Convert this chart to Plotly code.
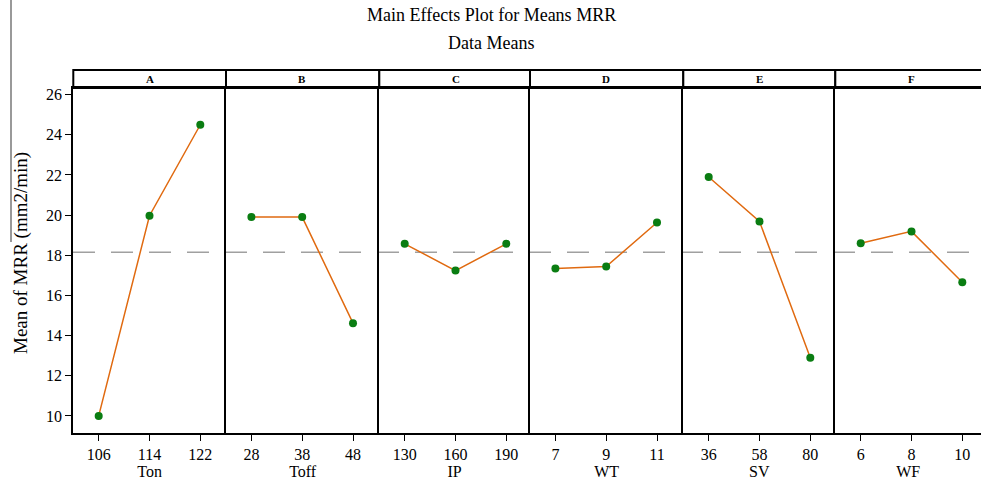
import plotly.graph_objects as go

# ---- data ----
factors = ["A", "B", "C", "D", "E", "F"]
factor_names = ["Ton", "Toff", "IP", "WT", "SV", "WF"]
levels = [
    ["106", "114", "122"],
    ["28", "38", "48"],
    ["130", "160", "190"],
    ["7", "9", "11"],
    ["36", "58", "80"],
    ["6", "8", "10"],
]
means_A = [10.0, 19.97, 24.5]
means_B = [19.9, 19.9, 14.62]
means_C = [18.57, 17.24, 18.57]
means_D = [17.34, 17.44, 19.63]
means_E = [21.9, 19.68, 12.9]
means_F = [18.6, 19.19, 16.66]
grand_mean = 18.15
y_ticks = [10, 12, 14, 16, 18, 20, 22, 24, 26]

series = [means_A, means_B, means_C, means_D, means_E, means_F]

W, H = 981, 485
L, T, B = 73, 88, 52
PW = W - L
PH = H - T - B
# panel boundaries in pixels
bounds = [73.3, 226.0, 379.3, 530.0, 683.3, 835.3, 981.0]
step = 50.8

SERIF = "Liberation Serif, Times New Roman, serif"

fig = go.Figure()
layout = dict(
    width=W, height=H,
    margin=dict(l=L, r=0, t=T, b=B),
    plot_bgcolor="white", paper_bgcolor="white",
    showlegend=False,
    font=dict(family=SERIF, color="black", size=15),
)

shapes = []
annotations = []
for i in range(6):
    xa = "xaxis" if i == 0 else f"xaxis{i+1}"
    ya = "yaxis" if i == 0 else f"yaxis{i+1}"
    xr = "x" if i == 0 else f"x{i+1}"
    yr = "y" if i == 0 else f"y{i+1}"
    d0 = (bounds[i] - L) / PW
    d1 = min((bounds[i + 1] - L) / PW, 1.0)
    width_px = bounds[i + 1] - bounds[i]
    last = i == 5
    fig.add_trace(go.Scatter(
        x=levels[i], y=series[i], mode="lines+markers",
        line=dict(color="#E06A10", width=1.5),
        marker=dict(color="#0A7D12", size=8, symbol="circle"),
        xaxis=xr, yaxis=yr, hoverinfo="x+y",
    ))
    layout[xa] = dict(
        domain=[d0, d1], type="category",
        range=[-0.5, -0.5 + width_px / step],
        showline=True, mirror=True, linecolor="black", linewidth=2,
        ticks="outside", ticklen=6, tickwidth=1, tickcolor="black",
        showgrid=False, zeroline=False, fixedrange=True,
        tickfont=dict(family=SERIF, size=16),
        title=dict(text=factor_names[i], font=dict(family=SERIF, size=16), standoff=4),
    )
    layout[ya] = dict(
        domain=[0, 1], range=[9.15, 26.33],
        showline=True, mirror=False, linecolor="black", linewidth=2,
        showgrid=False, zeroline=False, fixedrange=True,
        tickvals=y_ticks,
        showticklabels=(i == 0),
        ticks="outside" if i == 0 else "",
        ticklen=6, tickcolor="black",
        tickfont=dict(family=SERIF, size=16),
    )
    if i > 0:
        layout[ya]["matches"] = "y"
        layout[xa]["anchor"] = yr
        layout[ya]["anchor"] = xr
    # strip
    strip_y1 = (H - B - 70) / PH
    shapes.append(dict(type="rect", xref="paper", yref="paper",
                       x0=d0, x1=d1 if not last else 1.02, y0=1.0, y1=strip_y1,
                       line=dict(color="black", width=2), fillcolor="white", layer="below"))
    cx = ((bounds[i] + bounds[i] + 152.4) / 2 - L) / PW
    annotations.append(dict(text=f"<b>{factors[i]}</b>", xref="paper", yref="paper",
                            x=cx, y=(strip_y1 + 1.0) / 2, showarrow=False,
                            font=dict(family=SERIF, size=11), xanchor="center", yanchor="middle"))

# grand mean reference line
shapes.append(dict(type="line", xref="paper", yref="y", x0=0, x1=1,
                   y0=grand_mean, y1=grand_mean,
                   line=dict(color="#A0A0A0", width=1.5, dash="22px,16px"), layer="below"))
# vertical artifact line at the left edge
shapes.append(dict(type="line", xref="paper", yref="paper",
                   x0=(11 - L) / PW, x1=(11 - L) / PW,
                   y0=(H - B - 0) / PH, y1=(H - B - 242) / PH,
                   line=dict(color="#777777", width=1.5)))

def py(p):
    return (H - B - p) / PH

annotations.append(dict(text="Main Effects Plot for Means MRR", xref="paper", yref="paper",
                        x=(491 - L) / PW, y=py(15), showarrow=False,
                        font=dict(family=SERIF, size=18), xanchor="center", yanchor="middle"))
annotations.append(dict(text="Data Means", xref="paper", yref="paper",
                        x=(491 - L) / PW, y=py(43), showarrow=False,
                        font=dict(family=SERIF, size=18), xanchor="center", yanchor="middle"))
annotations.append(dict(text="Mean of MRR (mm2/min)", xref="paper", yref="paper",
                        x=(21 - L) / PW, y=py(253), showarrow=False, textangle=-90,
                        font=dict(family=SERIF, size=19), xanchor="center", yanchor="middle"))

layout["shapes"] = shapes
layout["annotations"] = annotations
fig.update_layout(**layout)
fig.write_html("out.html")
